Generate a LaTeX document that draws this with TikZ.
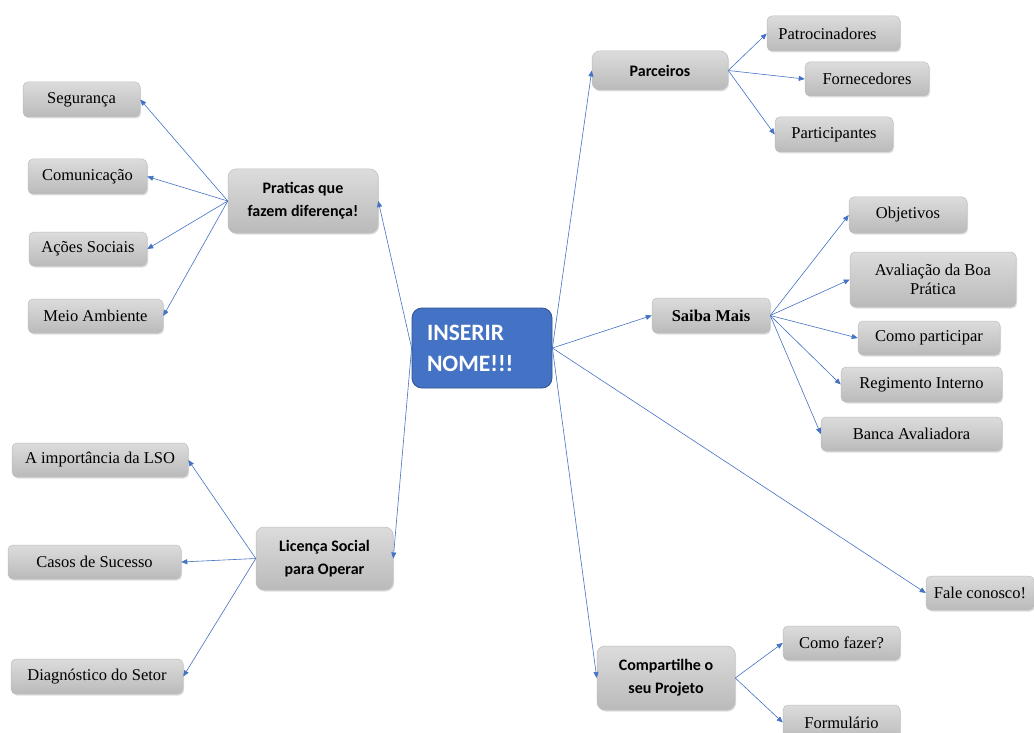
\documentclass[tikz,border=0pt]{standalone}
\usepackage{fontspec}
\setmainfont{Liberation Serif}
\newfontfamily\calib{Carlito}
\usetikzlibrary{arrows.meta,shadows}

\definecolor{linkblue}{RGB}{68,114,196}
\definecolor{boxtop}{RGB}{220,220,220}
\definecolor{boxbot}{RGB}{186,186,186}
\definecolor{boxedge}{RGB}{190,190,190}
\definecolor{centerfill}{RGB}{68,114,196}
\definecolor{centeredge}{RGB}{47,82,143}

\tikzset{
  leaf/.style={draw=boxedge, line width=0.5pt, rounded corners=5pt,
    top color=boxtop, bottom color=boxbot, align=center, inner sep=0pt,
    font=\fontsize{16.5}{19}\selectfont,
    drop shadow={shadow xshift=1pt, shadow yshift=-1.5pt, opacity=0.25}},
  hub/.style={leaf, rounded corners=8pt, font=\calib\bfseries\fontsize{16}{23}\selectfont},
  hubserif/.style={leaf, font=\bfseries\fontsize{16.5}{19}\selectfont},
  centerbox/.style={draw=centeredge, line width=0.8pt, fill=centerfill, rounded corners=10pt,
    text=white, font=\calib\bfseries\fontsize{23.5}{31}\selectfont, align=left,
    inner xsep=15pt, inner ysep=0pt, text width=110pt},
  link/.style={draw=linkblue, line width=0.6pt, -{Triangle[length=6pt,width=5pt]}}
}

\begin{document}
\begin{tikzpicture}[x=1pt,y=-1pt]
\clip (0,0) rectangle (1034,733);
\fill[white] (0,0) rectangle (1034,733);

% center
\node[centerbox, minimum height=80pt] (ctr) at (482,348) {INSERIR\\NOME!!!};

% left upper branch
\node[hub, minimum width=150pt, minimum height=64pt] (prat) at (303,201) {Praticas que\\fazem diferença!};
\node[leaf, minimum width=117pt, minimum height=35pt] (seg) at (81.5,99.5) {Segurança};
\node[leaf, minimum width=119pt, minimum height=35pt] (com) at (87.5,176.5) {Comunicação};
\node[leaf, minimum width=118pt, minimum height=34pt] (aco) at (88,249) {Ações Sociais};
\node[leaf, minimum width=135pt, minimum height=34pt] (mei) at (95.5,316) {Meio Ambiente};

% left lower branch
\node[hub, minimum width=137pt, minimum height=63pt] (lic) at (324.5,558.5) {Licença Social\\para Operar};
\node[leaf, minimum width=176pt, minimum height=34pt] (imp) at (100,460) {A importância da LSO};
\node[leaf, minimum width=173pt, minimum height=34pt] (cas) at (94.5,562) {Casos de Sucesso};
\node[leaf, minimum width=172pt, minimum height=35pt] (dia) at (97,676.5) {Diagnóstico do Setor};

% Parceiros
\node[hub, minimum width=136pt, minimum height=39pt] (parc) at (660,70.5) {Parceiros};
\node[leaf, minimum width=133pt, minimum height=35pt] (pat) at (833.5,33.5) {Patrocinadores\hspace*{12pt}};
\node[leaf, minimum width=124pt, minimum height=34pt] (for) at (867,79) {Fornecedores};
\node[leaf, minimum width=118pt, minimum height=35pt] (par) at (834,134.5) {Participantes};

% Saiba Mais
\node[hubserif, minimum width=118pt, minimum height=35pt] (sab) at (711,315.5) {Saiba Mais};
\node[leaf, minimum width=118pt, minimum height=36pt] (obj) at (908,215) {Objetivos};
\node[leaf, minimum width=166pt, minimum height=55pt] (ava) at (933,279.5) {Avaliação da Boa\\Prática};
\node[leaf, minimum width=142pt, minimum height=34pt] (cpa) at (929,338) {Como participar};
\node[leaf, minimum width=161pt, minimum height=35pt] (reg) at (921.5,384.5) {Regimento Interno};
\node[leaf, minimum width=181pt, minimum height=34pt] (ban) at (911.5,434) {Banca Avaliadora};

% Fale conosco
\node[leaf, minimum width=108pt, minimum height=34pt] (fal) at (980,593) {Fale conosco!};

% Compartilhe
\node[hub, minimum width=138pt, minimum height=64pt] (cmp) at (666,678) {Compartilhe o\\seu Projeto};
\node[leaf, minimum width=117pt, minimum height=34pt] (faz) at (841.5,643) {Como fazer?};
\node[leaf, minimum width=117pt, minimum height=35pt] (frm) at (841.5,722.5) {Formulário};

% connectors
\draw[link] (ctr.west) -- (prat.east);
\draw[link] (ctr.west) -- (lic.east);
\draw[link] (ctr.east) -- (parc.west);
\draw[link] (ctr.east) -- (sab.west);
\draw[link] (ctr.east) -- (fal.west);
\draw[link] (ctr.east) -- (cmp.west);

\draw[link] (prat.west) -- (seg.east);
\draw[link] (prat.west) -- (com.east);
\draw[link] (prat.west) -- (aco.east);
\draw[link] (prat.west) -- (mei.east);

\draw[link] (lic.west) -- (imp.east);
\draw[link] (lic.west) -- (cas.east);
\draw[link] (lic.west) -- (dia.east);

\draw[link] (parc.east) -- (pat.west);
\draw[link] (parc.east) -- (for.west);
\draw[link] (parc.east) -- (par.west);

\draw[link] (sab.east) -- (obj.west);
\draw[link] (sab.east) -- (ava.west);
\draw[link] (sab.east) -- (cpa.west);
\draw[link] (sab.east) -- (reg.west);
\draw[link] (sab.east) -- (ban.west);

\draw[link] (cmp.east) -- (faz.west);
\draw[link] (cmp.east) -- (frm.west);
\end{tikzpicture}
\end{document}
